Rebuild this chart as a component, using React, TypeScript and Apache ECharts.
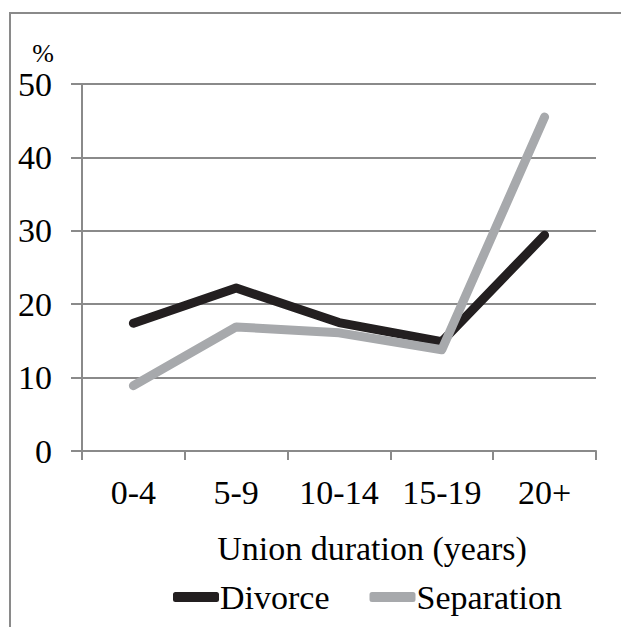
import React, { useEffect, useRef } from "react";
import * as echarts from "echarts";

const categories = ["0-4", "5-9", "10-14", "15-19", "20+"];
const divorce = [17.4, 22.2, 17.5, 14.9, 29.4];
const separation = [8.9, 16.9, 16.1, 13.8, 45.5];
const yTicks = { min: 0, max: 50, interval: 10 };

const FONT = "'Liberation Serif', 'Times New Roman', serif";
const GRID = "#8a8a8a";

export default function App() {
  const ref = useRef<HTMLDivElement>(null);

  useEffect(() => {
    if (!ref.current) return;
    const chart = echarts.init(ref.current, null, { renderer: "svg" });
    chart.setOption({
      animation: false,
      backgroundColor: "#ffffff",
      textStyle: { fontFamily: FONT, color: "#000" },
      graphic: [
        {
          type: "rect",
          shape: { x: 10, y: 13, width: 800, height: 800 },
          style: { fill: "none", stroke: GRID, lineWidth: 2 },
          silent: true,
        },
        {
          type: "text",
          x: 43,
          y: 53,
          style: {
            text: "%",
            font: `26px ${FONT}`,
            fill: "#000",
            align: "center",
            verticalAlign: "middle",
          },
        },
        {
          type: "text",
          x: 372,
          y: 548,
          style: {
            text: "Union duration (years)",
            font: `34px ${FONT}`,
            fill: "#000",
            align: "center",
            verticalAlign: "middle",
          },
        },
      ],
      grid: { left: 82, right: 25, top: 84, bottom: 176, containLabel: false },
      legend: {
        bottom: 8,
        left: 168,
        itemWidth: 46,
        itemHeight: 10,
        itemGap: 40,
        icon: "roundRect",
        textStyle: { fontFamily: FONT, fontSize: 34, color: "#000", padding: [0, 0, 0, -4] },
        data: ["Divorce", "Separation"],
      },
      xAxis: {
        type: "category",
        data: categories,
        boundaryGap: true,
        axisLine: { lineStyle: { color: GRID, width: 2 } },
        axisTick: { show: true, length: 9, inside: false, interval: 0, lineStyle: { color: GRID, width: 2 } },
        axisLabel: { fontFamily: FONT, fontSize: 34, color: "#000", margin: 24, interval: 0 },
        splitLine: { show: false },
      },
      yAxis: {
        type: "value",
        min: yTicks.min,
        max: yTicks.max,
        interval: yTicks.interval,
        axisLine: { show: true, lineStyle: { color: GRID, width: 2 } },
        axisTick: { show: true, length: 11, lineStyle: { color: GRID, width: 2 } },
        axisLabel: { fontFamily: FONT, fontSize: 34, color: "#000", margin: 30 },
        splitLine: { show: true, lineStyle: { color: GRID, width: 2 } },
      },
      series: [
        {
          name: "Divorce",
          type: "line",
          data: divorce,
          symbol: "none",
          color: "#231f20",
          lineStyle: { width: 9, color: "#231f20", cap: "round", join: "round" },
          z: 3,
        },
        {
          name: "Separation",
          type: "line",
          data: separation,
          symbol: "none",
          color: "#a7a9ac",
          lineStyle: { width: 9, color: "#a7a9ac", cap: "round", join: "round" },
          z: 4,
        },
      ],
    });
    return () => chart.dispose();
  }, []);

  return <div ref={ref} style={{ width: 621, height: 627, position: "absolute", left: 0, top: 0 }} />;
}
